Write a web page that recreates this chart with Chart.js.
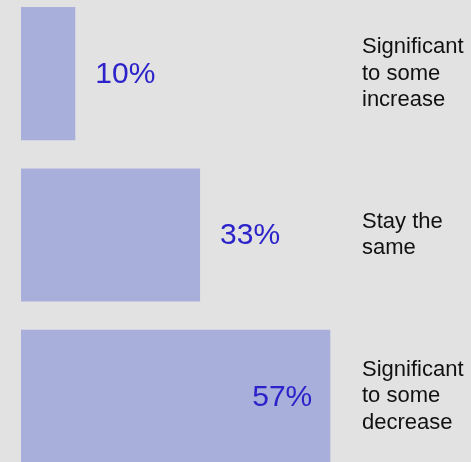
<!DOCTYPE html>
<html>
<head>
<meta charset="utf-8">
<script src="https://cdn.jsdelivr.net/npm/chart.js@4"></script>
<style>
    html, body { margin: 0; padding: 0; background: #e2e2e2; overflow: hidden; }
    #wrap { position: absolute; left: 0; top: -7px; width: 471px; height: 484px; }
</style>
</head>
<body>
<div id="wrap"><canvas id="chart"></canvas></div>
<script>
// Chart data
const categories = [
    ['Significant', 'to some', 'increase'],
    ['Stay the', 'same'],
    ['Significant', 'to some', 'decrease']
];
const shares = [10, 33, 57];
const shareLabels = ['10%', '33%', '57%'];

// Draw the percentage next to (or inside) each bar
const valueLabels = {
    id: 'valueLabels',
    afterDatasetsDraw(chart) {
        const ctx = chart.ctx;
        const meta = chart.getDatasetMeta(0);
        ctx.save();
        ctx.font = '30px "Liberation Sans", Arial, sans-serif';
        ctx.fillStyle = '#2b22c9';
        ctx.textBaseline = 'middle';
        meta.data.forEach((bar, i) => {
            const inside = shares[i] > 50;
            ctx.textAlign = inside ? 'right' : 'left';
            const x = inside ? bar.x - 18 : bar.x + 20;
            ctx.fillText(shareLabels[i], x, bar.y + 1);
        });
        ctx.restore();
    }
};

const ctx = document.getElementById('chart').getContext('2d');
new Chart(ctx, {
    type: 'bar',
    data: {
        labels: categories,
        datasets: [{
            data: shares,
            backgroundColor: '#a9afdb',
            borderWidth: 0,
            barPercentage: 0.825,
            categoryPercentage: 1
        }]
    },
    options: {
        indexAxis: 'y',
        responsive: true,
        maintainAspectRatio: false,
        animation: false,
        layout: { padding: { left: 21, right: 0, top: 0, bottom: 0 } },
        scales: {
            x: {
                display: false,
                min: 0,
                max: 61
            },
            y: {
                position: 'right',
                grid: { display: false, drawTicks: false },
                border: { display: false },
                ticks: {
                    padding: 10,
                    color: '#111',
                    font: { family: '"Liberation Sans", Arial, sans-serif', size: 22, lineHeight: 1.2 }
                },
                afterFit: (scale) => {
                    // labels sit inside their bands, no extra room needed
                    scale.width = 119;
                    scale.paddingTop = 0;
                    scale.paddingBottom = 0;
                }
            }
        },
        plugins: {
            legend: { display: false },
            tooltip: { enabled: false }
        }
    },
    plugins: [valueLabels]
});
</script>
</body>
</html>
